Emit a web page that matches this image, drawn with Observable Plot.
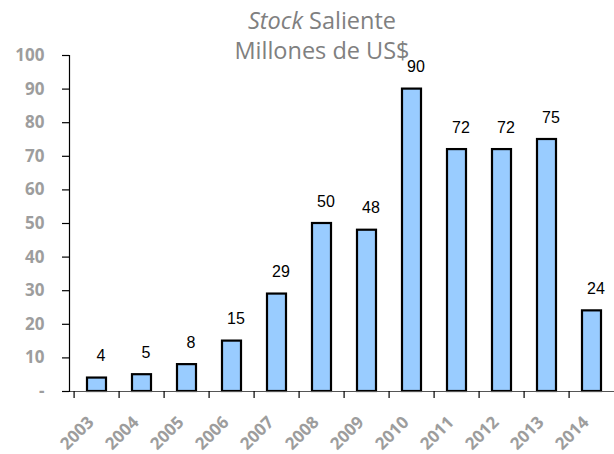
<!DOCTYPE html>
<html>
<head>
<meta charset="utf-8">
<script src="https://cdn.jsdelivr.net/npm/d3@7"></script>
<script src="https://cdn.jsdelivr.net/npm/@observablehq/plot@0.6"></script>
<style>
  html, body { margin: 0; padding: 0; background: #fff; }
  #wrap { position: relative; width: 614px; height: 454px; overflow: hidden; }
  #title { position: absolute; left: 192px; width: 260px; top: 5px; text-align: center;
           font-family: "Open Sans", sans-serif; font-size: 23.5px; line-height: 30px; color: #808080; white-space: nowrap; }
  #chart { position: absolute; left: 0; top: 0; }
</style>
</head>
<body>
<div id="wrap">
  <div id="chart"></div>
  <div id="title"><i>Stock</i> Saliente<br>Millones de US$</div>
</div>
<script>
const years = ["2003","2004","2005","2006","2007","2008","2009","2010","2011","2012","2013","2014"];
const values = [4, 5, 8, 15, 29, 50, 48, 90, 72, 72, 75, 24];
const yTicks = [0, 10, 20, 30, 40, 50, 60, 70, 80, 90, 100];

const data = years.map((y, i) => ({year: y, value: values[i]}));
const step = (619 - 69.3) / years.length;

const chart = Plot.plot({
  width: 614,
  height: 454,
  marginTop: 55,
  marginBottom: 63,
  marginLeft: 69,
  marginRight: 0,
  style: {fontFamily: "Open Sans, sans-serif", background: "transparent", overflow: "visible"},
  x: {type: "band", domain: years, range: [69.3, 619], paddingInner: 0.57, paddingOuter: 0.285, axis: null, label: null},
  y: {domain: [0, 100], axis: null, label: null},
  marks: [
    Plot.barY(data, {x: "year", y: "value", fill: "#99ccff", stroke: "#000", strokeWidth: 2.2}),
    Plot.ruleY([0], {stroke: "#555", strokeWidth: 1.2}),
    Plot.frame({anchor: "left", stroke: "#000", strokeWidth: 1.2}),
    Plot.axisY({ticks: yTicks, tickSize: 7, tickFormat: () => "", stroke: "#000", strokeWidth: 1.2, label: null}),
    Plot.axisY({ticks: yTicks, tickSize: 0, tickPadding: 25, tickFormat: d => d === 0 ? "-" : String(d), label: null,
                fill: "#9d9d9d", fontSize: 17, fontWeight: "bold", fontFamily: "Open Sans, sans-serif"}),
    Plot.axisX({tickSize: 7, tickFormat: () => "", dx: -step / 2, stroke: "#000", strokeWidth: 1.2, label: null}),
    Plot.axisX({tickSize: 0, tickRotate: -45, tickPadding: 28, fill: "#9d9d9d", fontSize: 17, fontWeight: "bold",
                fontFamily: "Open Sans, sans-serif", dx: -6, label: null}),
    Plot.text(data, {x: "year", y: "value", text: d => String(d.value), dy: -22, dx: 4,
                     fontSize: 16, fontFamily: "Liberation Sans, Arial, sans-serif", fill: "#000"})
  ]
});
document.getElementById("chart").appendChild(chart);
</script>
</body>
</html>
